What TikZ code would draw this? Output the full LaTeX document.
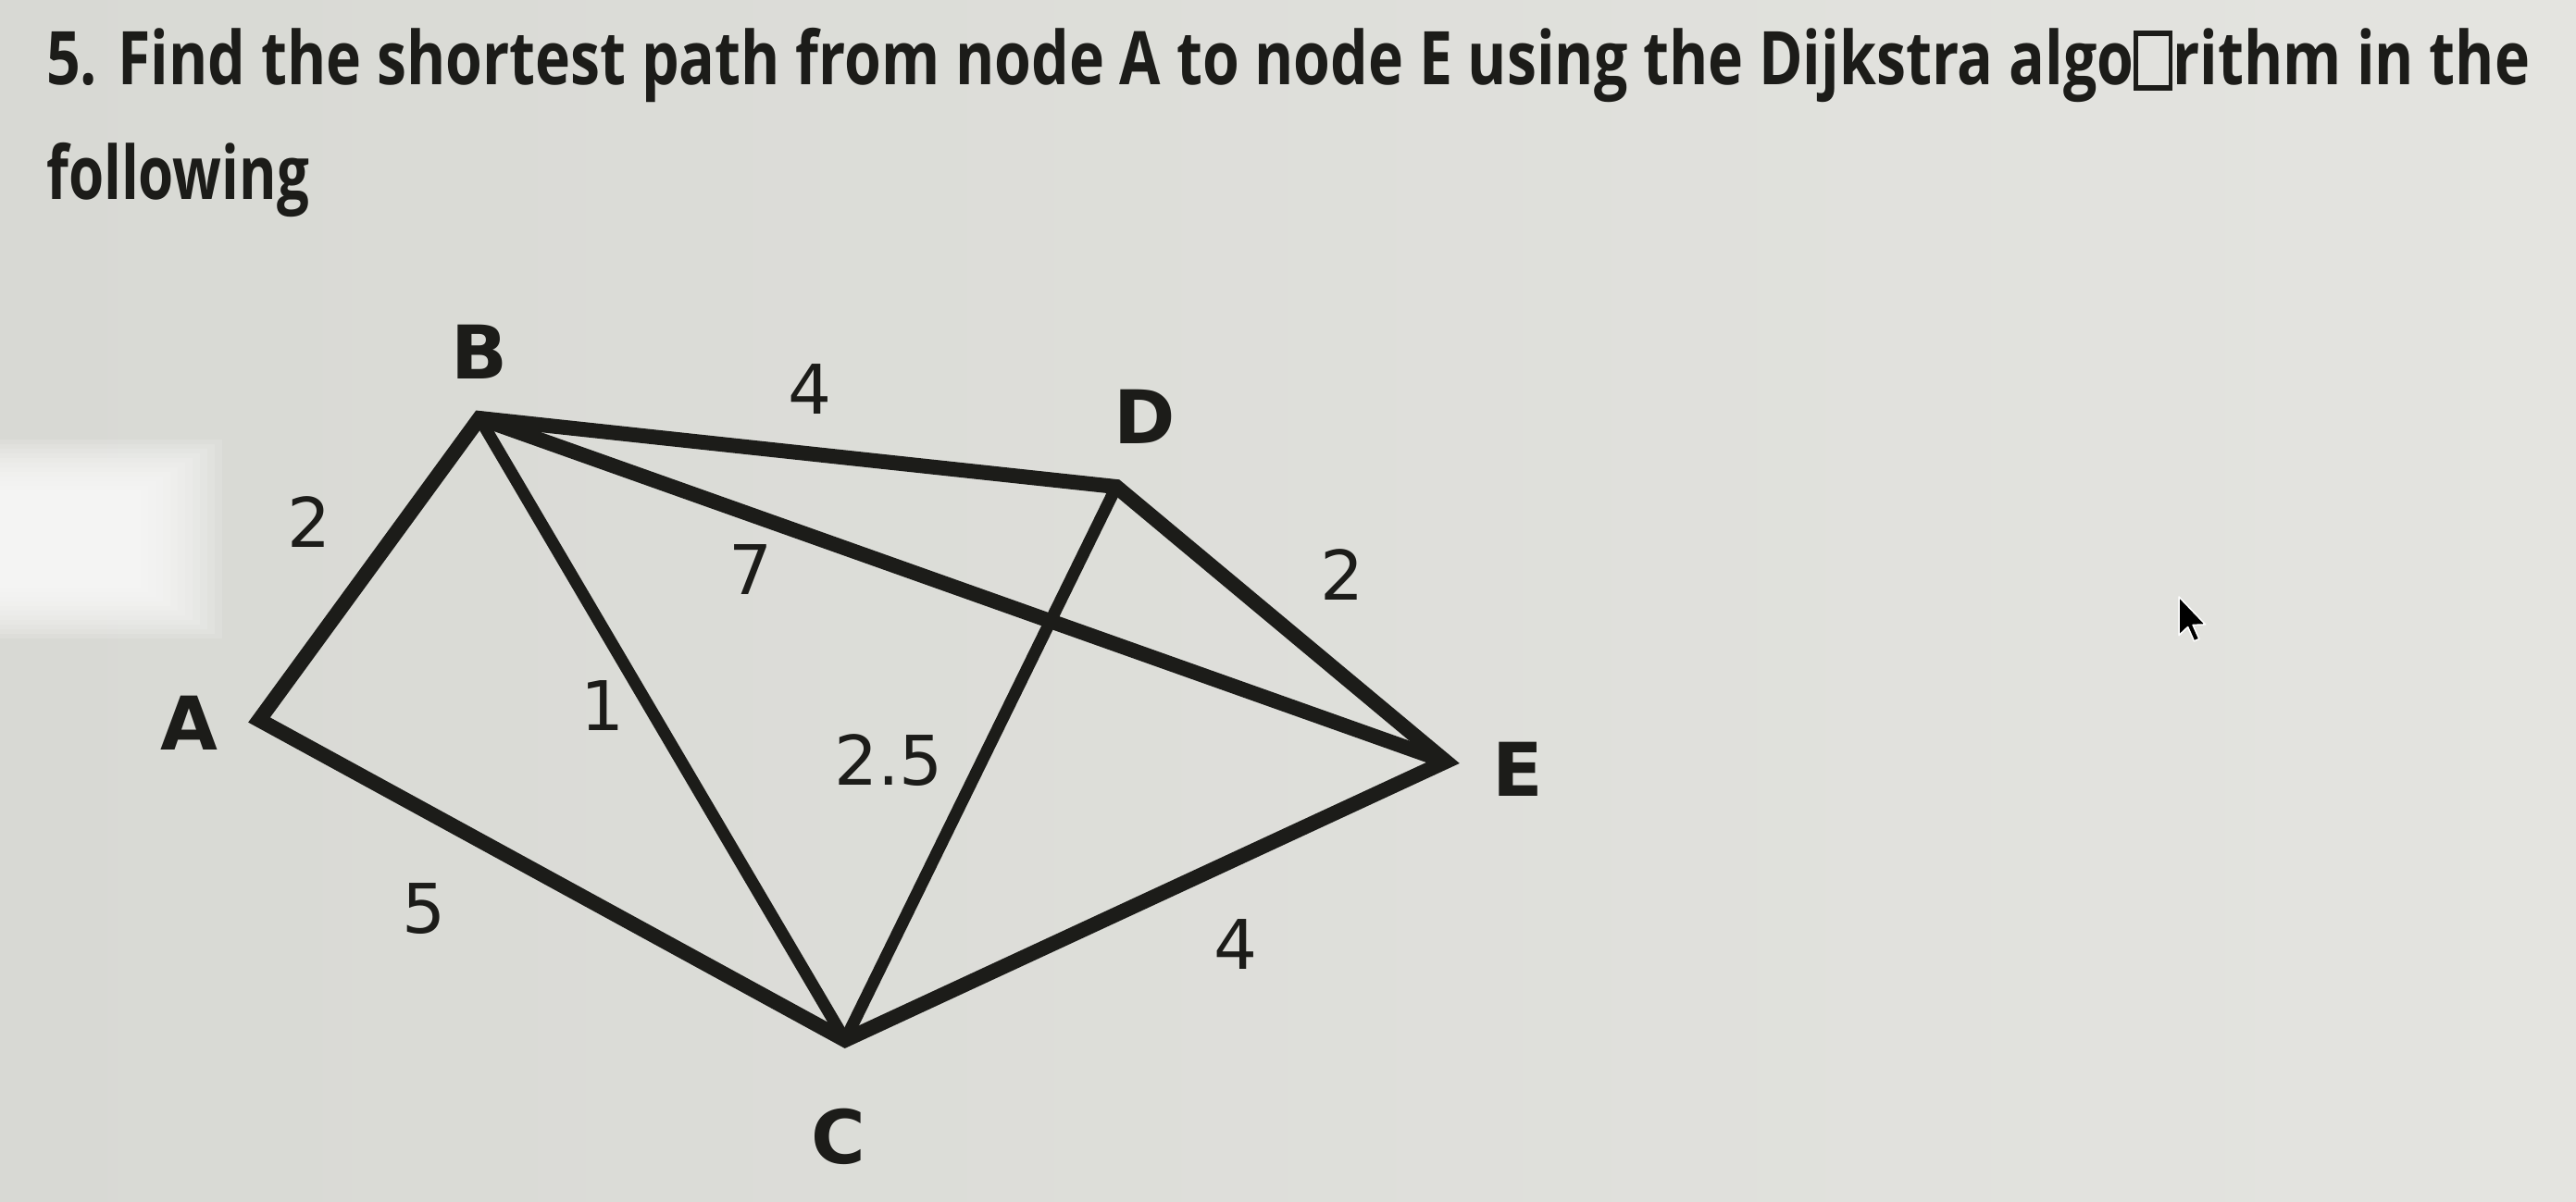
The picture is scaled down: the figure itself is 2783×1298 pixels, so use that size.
\documentclass[tikz,border=0pt]{standalone}
\usepackage{fontspec}
\usepackage{graphicx}
\setmainfont{Open Sans}
\newfontfamily\dvs{DejaVu Sans}
\definecolor{ink}{RGB}{28,28,25}
\definecolor{bgl}{RGB}{216,217,212}
\definecolor{bgr}{RGB}{228,228,224}
\newcommand{\tofubox}{{\setlength\fboxrule{0.075em}\setlength\fboxsep{0pt}\fbox{\rule{0pt}{0.66em}\hspace{0.5em}}}}
\begin{document}
\begin{tikzpicture}[x=1pt,y=-1pt,
  edge/.style={line width=16pt, draw=ink, line join=miter, miter limit=30},
  thinedge/.style={edge, line width=13pt},
  vlabel/.style={font=\dvs\bfseries\fontsize{80}{82}\selectfont, text=ink, inner sep=0pt},
  wlabel/.style={font=\dvs\fontsize{74}{76}\selectfont, text=ink, inner sep=0pt},
  title/.style={font=\bfseries\fontsize{80}{84}\selectfont, text=ink, inner sep=0pt, anchor=base west}]
\useasboundingbox (0,0) rectangle (2783,1298);
% background and glare
\shade[left color=bgl, right color=bgr] (0,0) rectangle (2783,1298);
\foreach \i in {0,...,11} {
  \fill[white, opacity=0.13] (0,{475+\i*5}) rectangle ({240-\i*8},{690-\i*5});
}
% title
\node[title] (t1) at (50,92) {\resizebox{2683pt}{\height}{5. Find the shortest path from node A to node E using the Dijkstra algo\tofubox rithm in the}};
\node[title] (t2) at (50,215) {\resizebox{284pt}{\height}{following}};
% vertices
\coordinate (A) at (280,778);
\coordinate (B) at (518,452);
\coordinate (D) at (1206,526);
\coordinate (E) at (1562,823);
\coordinate (C) at (913,1124);
% edges
\draw[edge] (A) -- (B) -- (D) -- (E) -- (C) -- cycle;
\draw[thinedge] (B) -- (C);
\draw[edge] (B) -- (E);
\draw[thinedge] (D) -- (C);
% vertex labels
\node[vlabel] (lA) at (204,781) {A};
\node[vlabel] (lB) at (518,380) {B};
\node[vlabel] (lD) at (1237,450) {D};
\node[vlabel] (lE) at (1640,831) {E};
\node[vlabel] (lC) at (906,1228) {C};
% weights
\node[wlabel] (wAB) at (334,564) {2};
\node[wlabel] (wBD) at (875,421) {4};
\node[wlabel] (wBE) at (811,616) {7};
\node[wlabel] (wDE) at (1450,621) {2};
\node[wlabel] (wBC) at (651,763) {1};
\node[wlabel] (wDC) at (960,822) {2.5};
\node[wlabel] (wAC) at (458,982) {5};
\node[wlabel] (wCE) at (1335,1021) {4};
% mouse cursor
\begin{scope}[shift={(2354,645)}, scale=2.6]
\filldraw[fill=black, draw=white, line width=1.5pt, line join=round]
  (0,0) -- (0,16) -- (3.7,12.5) -- (6.3,18.4) -- (8.4,17.5) -- (5.8,11.7) -- (11,11.5) -- cycle;
\end{scope}
\end{tikzpicture}
\end{document}
